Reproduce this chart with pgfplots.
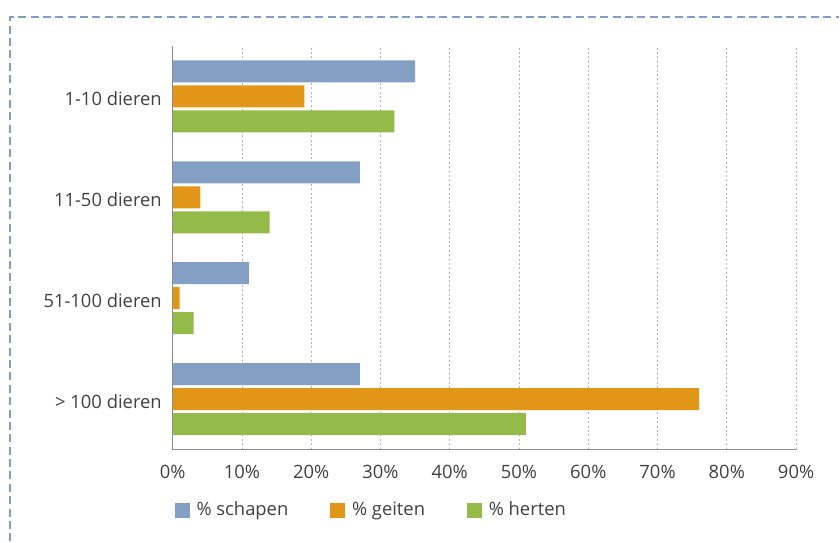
\documentclass[border=0pt]{standalone}
\usepackage{pgfplots}
\pgfplotsset{compat=1.18}
\usepackage{pgfplotstable}
\usepackage{fontspec}
\setmainfont{Open Sans}

\definecolor{schapen}{RGB}{131,159,196}
\definecolor{geiten}{RGB}{226,150,24}
\definecolor{herten}{RGB}{148,186,72}
\definecolor{txt}{RGB}{64,64,64}
\definecolor{rand}{RGB}{130,158,200}

% y: 3 = 1-10 dieren (top) ... 0 = > 100 dieren (bottom)
\pgfplotstableread{
y schapen geiten herten
3 35 19 32
2 27 4  14
1 11 1  3
0 27 76 51
}\data

\begin{document}
\begin{tikzpicture}
\begin{axis}[
  scale only axis,
  width=312pt, height=202pt,
  xmin=0, xmax=90,
  ymin=-0.5, ymax=3.5,
  xbar, bar width=11pt,
  xtick={0,10,...,90},
  xticklabel={\pgfmathprintnumber{\tick}\%},
  ytick={0,1,2,3},
  yticklabels={{> 100 dieren},{51-100 dieren},{11-50 dieren},{1-10 dieren}},
  major tick length=0pt,
  tick label style={font=\fontsize{9.2}{11}\selectfont, text=txt},
  /pgf/number format/assume math mode=true,
  yticklabel style={xshift=-2pt, yshift=-1.2pt},
  xticklabel style={yshift=-4.5pt},
  xmajorgrids,
  grid style={dash pattern=on 1pt off 1.2pt, gray!60, line width=0.5pt},
  axis x line*=bottom, axis y line*=left,
  axis line style={gray!90, line width=0.6pt},
  x axis line style={-}, y axis line style={-},
  clip=false,
  legend columns=3,
  legend style={draw=none, fill=none, at={(rel axis cs:-0.007,-0.151)}, anchor=west,
    font=\fontsize{9.2}{11}\selectfont, text=txt,
    /tikz/every odd column/.append style={column sep=1.5pt},
    /tikz/every even column/.append style={column sep=19pt}},
  legend image code/.code={\fill[#1] (0pt,-3.6pt) rectangle (7.4pt,3.6pt);},
]
\addplot[draw=none, fill=schapen, bar shift=12.5pt] table[x=schapen, y=y] {\data};
\addplot[draw=none, fill=geiten, bar shift=0pt] table[x=geiten, y=y] {\data};
\addplot[draw=none, fill=herten, bar shift=-12.5pt] table[x=herten, y=y] {\data};
\legend{\% schapen, \% geiten, \% herten}
% outer frame of the reference (dashed) and picture bounds
\path (rel axis cs:-0.2772,-0.2277) rectangle (rel axis cs:1.0689,1.1139);
\draw[rand, line width=1pt, dash pattern=on 4pt off 2.2pt]
  (rel axis cs:-0.2612,-0.2277) -- (rel axis cs:-0.2612,1.0718) -- (rel axis cs:1.0689,1.0718);
\end{axis}
\end{tikzpicture}
\end{document}
